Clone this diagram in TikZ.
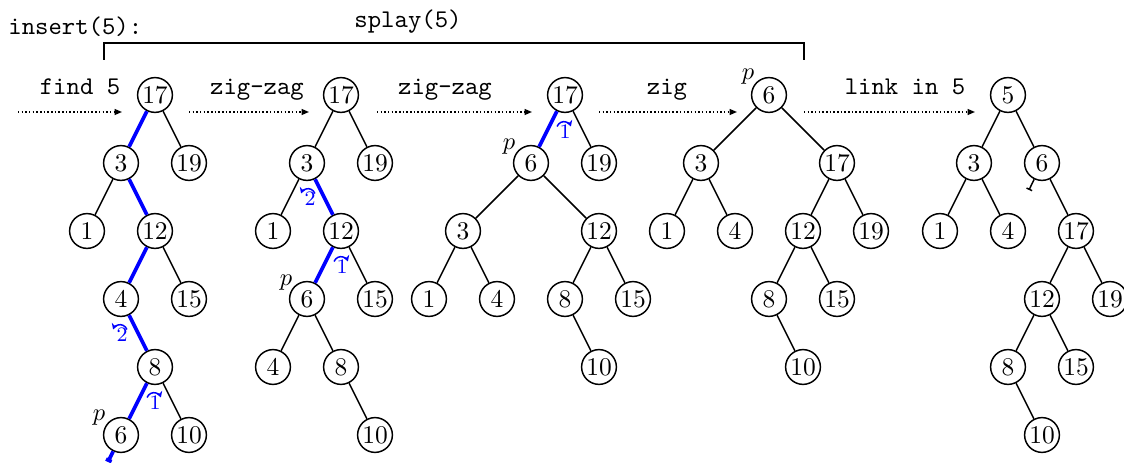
\documentclass[tikz,border=0pt]{standalone}
\usetikzlibrary{calc,arrows.meta}
\begin{document}
\fontsize{10.4pt}{12.5pt}\selectfont
\begin{tikzpicture}[x=0.4082pt,y=-0.4082pt,
  key/.style={circle,draw,line width=0.6pt,minimum size=14.2pt,inner sep=0pt},
  treeline/.style={line width=0.6pt},
  hot/.style={blue,line width=1.5pt},
  flow/.style={line width=0.6pt,dash pattern=on 0.6pt off 0.9pt,-{Triangle[length=3pt,width=2.4pt]}},
  opname/.style={font=\ttfamily,anchor=base,inner sep=0pt},
  rot/.style={blue,line width=0.6pt,-{Stealth[length=2.4pt,width=2.8pt]}},
  rotnum/.style={blue,font=\fontsize{8.4pt}{10pt}\selectfont,inner sep=0pt},
  nilend/.style={-{Bar[width=2.5pt]}},
  plab/.style={inner sep=0pt}
]
\useasboundingbox (0,0) rectangle (1124,463);
\clip (0,0) rectangle (1124,463);

% headings and the bracket over the splay steps
\node[font=\ttfamily,anchor=base west,inner sep=0pt] (ins) at (8,35) {insert(5):};
\node[font=\ttfamily,anchor=base,inner sep=0pt] (spl) at (408,28) {splay(5)};
\coordinate (bl) at (104,60);
\coordinate (br) at (804,60);
\draw[treeline] (bl) -- ++(0,-17) -| (br);

% tree after find 5
\node[key] (a17) at (155,95) {17};
\node[key] (a3) at (121,163) {3};
\node[key] (a19) at (189,163) {19};
\node[key] (a1) at (87,231) {1};
\node[key] (a12) at (155,231) {12};
\node[key] (a4) at (121,299) {4};
\node[key] (a15) at (189,299) {15};
\node[key] (a8) at (155,367) {8};
\node[key] (a6) at (121,435) {6};
\node[key] (a10) at (189,435) {10};
\draw[treeline] (a17) -- (a19) (a3) -- (a1) (a12) -- (a15) (a8) -- (a10);
\draw[hot] (a17) -- (a3);
\draw[hot] (a3) -- (a12);
\draw[hot] (a12) -- (a4);
\draw[hot] (a4) -- (a8);
\draw[hot] (a8) -- (a6);
\coordinate (anil) at ($(a6)+(-13,27)$);
\draw[hot,nilend] (a6) -- (anil);
\node[plab] (pa) at ($(a6)+(-22,-17)$) {$p$};
\node[rotnum] (ra1) at ($(a8)!0.5!(a6)+(17,2)$) {1};
\node[rotnum] (ra2) at ($(a4)!0.5!(a8)+(-16,2)$) {2};
\draw[rot] ($(ra1.center)+(-1,-3)$) ++(160:3pt) arc[start angle=160,end angle=20,radius=3pt];
\draw[rot] ($(ra2.center)+(-2,-3)$) ++(20:3pt) arc[start angle=20,end angle=160,radius=3pt];

% tree after the first zig-zag
\node[key] (b17) at (341,95) {17};
\node[key] (b3) at (307,163) {3};
\node[key] (b19) at (375,163) {19};
\node[key] (b1) at (273,231) {1};
\node[key] (b12) at (341,231) {12};
\node[key] (b6) at (307,299) {6};
\node[key] (b15) at (375,299) {15};
\node[key] (b4) at (273,367) {4};
\node[key] (b8) at (341,367) {8};
\node[key] (b10) at (375,435) {10};
\draw[treeline] (b17) -- (b3) (b17) -- (b19) (b3) -- (b1) (b12) -- (b15)
  (b6) -- (b4) (b6) -- (b8) (b8) -- (b10);
\draw[hot] (b3) -- (b12);
\draw[hot] (b12) -- (b6);
\node[plab] (pb) at ($(b6)+(-21,-16)$) {$p$};
\node[rotnum] (rb1) at ($(b12)!0.5!(b6)+(18,2)$) {1};
\node[rotnum] (rb2) at ($(b3)!0.5!(b12)+(-14,2)$) {2};
\draw[rot] ($(rb1.center)+(-1,-3)$) ++(160:3pt) arc[start angle=160,end angle=20,radius=3pt];
\draw[rot] ($(rb2.center)+(-2,-3)$) ++(20:3pt) arc[start angle=20,end angle=160,radius=3pt];

% tree after the second zig-zag
\node[key] (c17) at (565,95) {17};
\node[key] (c6) at (531,163) {6};
\node[key] (c19) at (599,163) {19};
\node[key] (c3) at (463,231) {3};
\node[key] (c12) at (599,231) {12};
\node[key] (c1) at (429,299) {1};
\node[key] (c4) at (497,299) {4};
\node[key] (c8) at (565,299) {8};
\node[key] (c15) at (633,299) {15};
\node[key] (c10) at (599,367) {10};
\draw[treeline] (c17) -- (c19) (c6) -- (c3) (c6) -- (c12) (c3) -- (c1) (c3) -- (c4)
  (c12) -- (c8) (c12) -- (c15) (c8) -- (c10);
\draw[hot] (c17) -- (c6);
\node[plab] (pc) at ($(c6)+(-22,-16)$) {$p$};
\node[rotnum] (rc1) at ($(c17)!0.5!(c6)+(17,3)$) {1};
\draw[rot] ($(rc1.center)+(-1,-3)$) ++(160:3pt) arc[start angle=160,end angle=20,radius=3pt];

% tree after the zig
\node[key] (d6) at (769,95) {6};
\node[key] (d3) at (701,163) {3};
\node[key] (d17) at (837,163) {17};
\node[key] (d1) at (667,231) {1};
\node[key] (d4) at (735,231) {4};
\node[key] (d12) at (803,231) {12};
\node[key] (d19) at (871,231) {19};
\node[key] (d8) at (769,299) {8};
\node[key] (d15) at (837,299) {15};
\node[key] (d10) at (803,367) {10};
\draw[treeline] (d6) -- (d3) (d6) -- (d17) (d3) -- (d1) (d3) -- (d4)
  (d17) -- (d12) (d17) -- (d19) (d12) -- (d8) (d12) -- (d15) (d8) -- (d10);
\node[plab] (pd) at ($(d6)+(-21,-18)$) {$p$};

% tree after linking in 5
\node[key] (e5) at (1008,95) {5};
\node[key] (e3) at (974,163) {3};
\node[key] (e6) at (1042,163) {6};
\node[key] (e1) at (940,231) {1};
\node[key] (e4) at (1008,231) {4};
\node[key] (e17) at (1076,231) {17};
\node[key] (e12) at (1042,299) {12};
\node[key] (e19) at (1110,299) {19};
\node[key] (e8) at (1008,367) {8};
\node[key] (e15) at (1076,367) {15};
\node[key] (e10) at (1042,435) {10};
\draw[treeline] (e5) -- (e3) (e5) -- (e6) (e3) -- (e1) (e3) -- (e4) (e6) -- (e17)
  (e17) -- (e12) (e17) -- (e19) (e12) -- (e8) (e12) -- (e15) (e8) -- (e10);
\coordinate (enil) at ($(e6)+(-13,27)$);
\draw[treeline,nilend] (e6) -- (enil);

% steps between the trees
\coordinate (s0) at (18,112);
\coordinate (t0) at ($(a17)+(-33,17)$);
\coordinate (s1) at ($(a17)+(34,17)$);
\coordinate (t1) at ($(b17)+(-32,17)$);
\coordinate (s2) at ($(b17)+(36,17)$);
\coordinate (t2) at ($(c17)+(-33,17)$);
\coordinate (s3) at ($(c17)+(34,17)$);
\coordinate (t3) at ($(d6)+(-32,17)$);
\coordinate (s4) at ($(d6)+(35,17)$);
\coordinate (t4) at ($(e5)+(-33,17)$);
\draw[flow] (s0) -- (t0);
\draw[flow] (s1) -- (t1);
\draw[flow] (s2) -- (t2);
\draw[flow] (s3) -- (t3);
\draw[flow] (s4) -- (t4);
\node[opname] (o0) at (80,95) {find 5};
\node[opname] (o1) at (257,95) {zig-zag};
\node[opname] (o2) at (445,95) {zig-zag};
\node[opname] (o3) at (667,95) {zig};
\node[opname] (o4) at (905,95) {link in 5};
\end{tikzpicture}
\end{document}
